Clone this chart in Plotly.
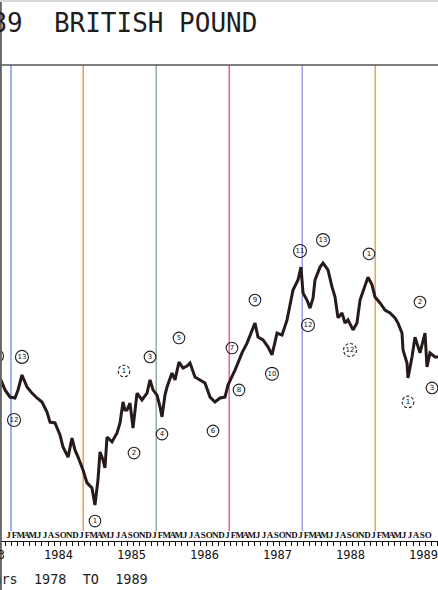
import plotly.graph_objects as go

# ---------------- data ----------------
title_text = "1978-89  BRITISH POUND"
footer_text = "Years  1978  TO  1989"

price_year = [1983.925, 1983.994, 1984.062, 1984.130, 1984.172, 1984.226, 1984.295, 1984.363,
              1984.432, 1984.500, 1984.569, 1984.610, 1984.678, 1984.747, 1984.788, 1984.857,
              1984.911, 1984.952, 1984.994, 1985.062, 1985.117, 1985.185, 1985.226, 1985.267,
              1985.295, 1985.336, 1985.363, 1985.391, 1985.459, 1985.528, 1985.569, 1985.610,
              1985.637, 1985.665, 1985.706, 1985.747, 1985.802, 1985.870, 1985.939, 1985.980,
              1986.021, 1986.076, 1986.117, 1986.144, 1986.185, 1986.213, 1986.281, 1986.322,
              1986.377, 1986.432, 1986.487, 1986.528, 1986.596, 1986.665, 1986.733, 1986.802,
              1986.870, 1986.939, 1987.007, 1987.048, 1987.103, 1987.144, 1987.185, 1987.240,
              1987.309, 1987.377, 1987.418, 1987.459, 1987.528, 1987.596, 1987.651, 1987.720,
              1987.788, 1987.857, 1987.898, 1987.939, 1988.007, 1988.048, 1988.076, 1988.130,
              1988.172, 1988.213, 1988.240, 1988.309, 1988.350, 1988.418, 1988.473, 1988.514,
              1988.555, 1988.610, 1988.651, 1988.692, 1988.761, 1988.815, 1988.857, 1988.925,
              1988.966, 1989.021, 1989.062, 1989.131, 1989.199, 1989.268, 1989.336, 1989.377,
              1989.432, 1989.446, 1989.500, 1989.514, 1989.569, 1989.610, 1989.678, 1989.747,
              1989.774, 1989.815, 1989.884, 1989.925]
price_value = [1.486, 1.444, 1.419, 1.416, 1.444, 1.496, 1.454, 1.433,
               1.416, 1.402, 1.367, 1.332, 1.329, 1.287, 1.245, 1.210,
               1.276, 1.235, 1.210, 1.165, 1.120, 1.102, 1.043, 1.130,
               1.228, 1.200, 1.172, 1.280, 1.263, 1.294, 1.329, 1.402,
               1.374, 1.374, 1.398, 1.311, 1.433, 1.409, 1.433, 1.479,
               1.444, 1.426, 1.385, 1.350, 1.426, 1.454, 1.503, 1.479,
               1.541, 1.520, 1.527, 1.538, 1.489, 1.479, 1.468, 1.419,
               1.402, 1.416, 1.419, 1.461, 1.489, 1.513, 1.538, 1.573,
               1.607, 1.653, 1.677, 1.628, 1.618, 1.594, 1.566, 1.642,
               1.635, 1.688, 1.747, 1.792, 1.827, 1.872, 1.782, 1.757,
               1.729, 1.764, 1.827, 1.872, 1.886, 1.862, 1.803, 1.768,
               1.695, 1.712, 1.677, 1.688, 1.653, 1.677, 1.757, 1.810,
               1.837, 1.810, 1.768, 1.747, 1.722, 1.712, 1.695, 1.677,
               1.642, 1.583, 1.538, 1.486, 1.559, 1.628, 1.573, 1.642,
               1.524, 1.573, 1.559, 1.559]

label_year = [1983.884, 1984.226, 1984.117, 1985.624, 1985.980, 1986.377, 1986.144, 1985.761,
              1985.226, 1986.843, 1987.103, 1987.199, 1987.418, 1987.651, 1988.035, 1988.144,
              1988.350, 1988.720, 1988.980, 1989.678, 1989.843, 1989.514]
label_value = [1.562, 1.559, 1.339, 1.510, 1.559, 1.625, 1.290, 1.224,
               0.987, 1.301, 1.590, 1.444, 1.757, 1.500, 1.928, 1.670,
               1.966, 1.583, 1.918, 1.750, 1.451, 1.402]
label_text = ["11", "13", "12", "1", "3", "5", "4", "2",
              "1", "6", "7", "8", "9", "10", "11", "12",
              "13", "12", "1", "2", "3", "1"]
label_dashed = [False, False, False, True, False, False, False, False,
                False, False, False, False, False, False, False, False,
                False, True, False, False, False, True]

cycle_years = [1984.075, 1985.065, 1986.065, 1987.065, 1988.065, 1989.065]
cycle_colors = ["#8497ee", "#f59a4c", "#93ae98", "#ec5e9c", "#9a9cf0", "#f7a152"]

year_labels = [1983, 1984, 1985, 1986, 1987, 1988, 1989]
month_letters = ["J", "F", "M", "A", "M", "J", "J", "A", "S", "O", "N", "D"]

X_RANGE = [1983.925, 1989.925]
Y_RANGE = [0.9176, 2.5761]

# ---------------- figure ----------------
W, H = 438, 590
ML, MR, MT, MB = 0, 0, 65, 49
PH = H - MT - MB

month_pos, month_txt = [], []
for yv in range(1983, 1991):
    for i, m in enumerate(month_letters):
        p = yv + (i + 0.5) / 12
        if X_RANGE[0] <= p <= X_RANGE[1]:
            month_pos.append(p)
            month_txt.append(m)

fig = go.Figure()

fig.add_trace(go.Scatter(
    x=price_year, y=price_value, mode="lines",
    line=dict(color="#261a1a", width=3),
    hoverinfo="skip", showlegend=False))

fig.add_trace(go.Scatter(
    x=label_year, y=label_value, mode="text", text=label_text,
    textfont=dict(family="DejaVu Sans", size=7, color="#111"),
    cliponaxis=False, hoverinfo="skip", showlegend=False))

shapes = []
for cx, cc in zip(cycle_years, cycle_colors):
    shapes.append(dict(type="line", xref="x", yref="paper", x0=cx, x1=cx,
                       y0=(10 / PH), y1=1, line=dict(color=cc, width=1.5), layer="below"))
for lx, ly, lt, dd in zip(label_year, label_value, label_text, label_dashed):
    r = 6.5 if len(lt) > 1 else 5.8
    shapes.append(dict(type="circle", xref="x", yref="y",
                       xsizemode="pixel", ysizemode="pixel",
                       xanchor=lx, yanchor=ly, x0=-r, x1=r, y0=-r, y1=r,
                       line=dict(color="#222", width=1.1, dash="3px,2px" if dd else "solid")))
shapes.append(dict(type="line", xref="paper", yref="paper", x0=0, x1=1, y0=1, y1=1,
                   line=dict(color="#555", width=1.6)))
shapes.append(dict(type="line", xref="paper", yref="paper", x0=0.002, x1=0.002,
                   y0=-MB / PH, y1=1 + MT / PH, line=dict(color="#666", width=2)))
shapes.append(dict(type="line", xref="paper", yref="paper", x0=0, x1=1,
                   y0=1 + (MT - 1) / PH, y1=1 + (MT - 1) / PH, line=dict(color="#d8d8d8", width=2)))

annotations = []
annotations.append(dict(text=title_text, xref="paper", yref="paper",
                        x=-89.5 / W, y=1 + (MT - 23) / PH, xanchor="left", yanchor="middle",
                        showarrow=False, font=dict(family="DejaVu Sans Mono", size=26, color="#1e1e1e")))
annotations.append(dict(text=footer_text, xref="paper", yref="paper",
                        x=-24.6 / W, y=-(579 - (H - MB)) / PH, xanchor="left", yanchor="middle",
                        showarrow=False, font=dict(family="DejaVu Sans Mono", size=13.5, color="#1e1e1e")))
for yl in year_labels:
    if yl == year_labels[0]:
        ax, anc = X_RANGE[0] + 7 / 73, "right"
    else:
        ax, anc = yl + 0.726, "center"
    annotations.append(dict(text=str(yl), xref="x", yref="paper", x=ax,
                            y=-(555 - (H - MB)) / PH, xanchor=anc, yanchor="middle",
                            showarrow=False,
                            font=dict(family="DejaVu Sans Mono", size=12, color="#111")))

fig.update_layout(
    width=W, height=H, margin=dict(l=ML, r=MR, t=MT, b=MB, pad=0),
    paper_bgcolor="white", plot_bgcolor="white",
    shapes=shapes, annotations=annotations, showlegend=False,
    xaxis=dict(range=X_RANGE, showgrid=False, zeroline=False,
               showline=True, linecolor="#111", linewidth=1.3,
               tickmode="array", tickvals=month_pos, ticktext=month_txt,
               ticks="", tickangle=0, ticklabelposition="inside",
               tickfont=dict(family="Liberation Sans Narrow", size=9, color="#111", weight="bold"),
               minor=dict(tickmode="linear", tick0=1984.0, dtick=1 / 12, ticks="outside",
                          ticklen=4, tickwidth=1.2, tickcolor="#111", showgrid=False)),
    yaxis=dict(range=Y_RANGE, showgrid=False, zeroline=False, showline=False,
               showticklabels=False, ticks=""),
)

fig.write_html("out.html", config={"displayModeBar": False},
               post_script="document.body.style.margin='0';document.body.style.overflow='hidden';")
